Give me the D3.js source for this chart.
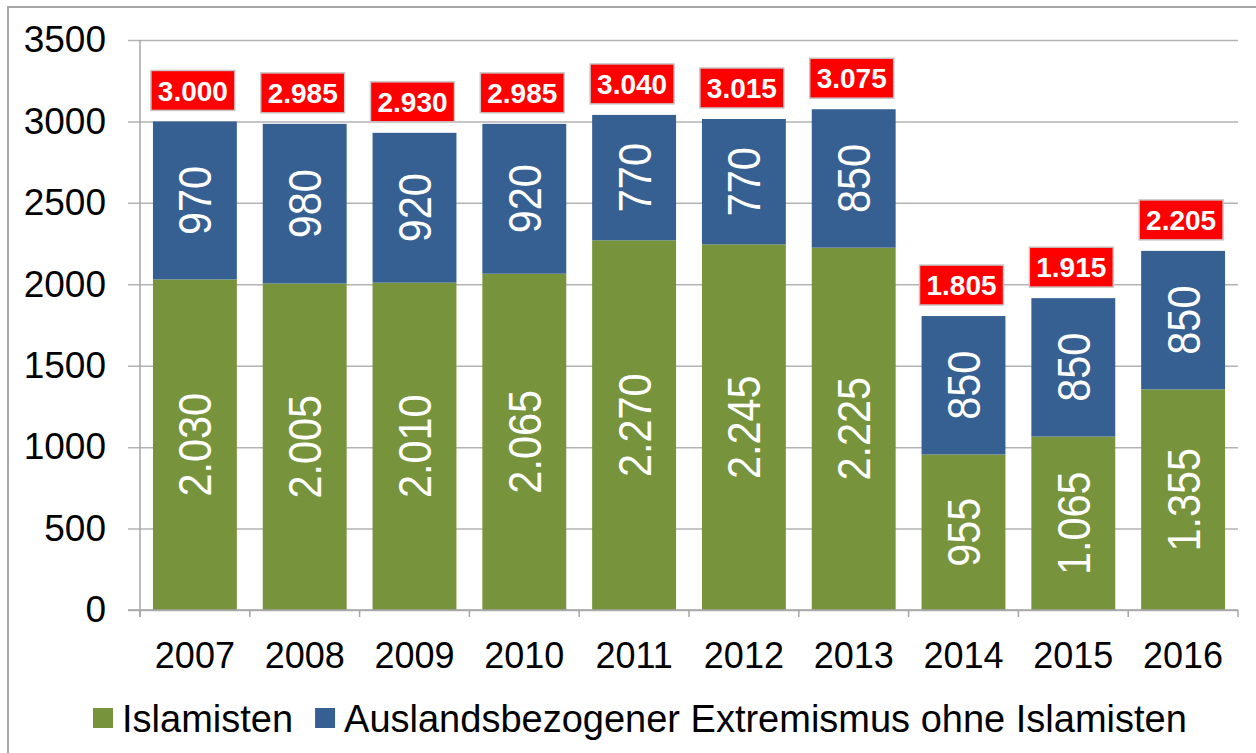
<!DOCTYPE html>
<html>
<head>
<meta charset="utf-8">
<script src="https://cdn.jsdelivr.net/npm/d3@7"></script>
<style>
  body { margin: 0; background: #fff; }
  text { font-family: "Liberation Sans", Arial, sans-serif; }
</style>
</head>
<body>
<svg width="1256" height="753"></svg>
<script>
const years = ['2007', '2008', '2009', '2010', '2011', '2012', '2013', '2014', '2015', '2016'];
const islamisten = [2030, 2005, 2010, 2065, 2270, 2245, 2225, 955, 1065, 1355];
const ausland = [970, 980, 920, 920, 770, 770, 850, 850, 850, 850];
const yTicks = [0, 500, 1000, 1500, 2000, 2500, 3000, 3500];
const seriesNames = ['Islamisten', 'Auslandsbezogener Extremismus ohne Islamisten'];
const colors = ['#77933C', '#376092'];

const svg = d3.select('svg');
const width = +svg.attr('width');
const height = +svg.attr('height');

const de = d3.formatLocale({ decimal: ',', thousands: '.', grouping: [3], currency: ['', ''] });
const fmt = de.format(',');

// outer frame
svg.append('rect')
  .attr('x', 8).attr('y', 7)
  .attr('width', width + 10).attr('height', height + 10)
  .attr('fill', '#fff')
  .attr('stroke', '#A6A6A6')
  .attr('stroke-width', 2);

const margin = { top: 40, right: 18, bottom: 143, left: 140 };
const innerWidth = width - margin.left - margin.right;
const innerHeight = height - margin.top - margin.bottom;

const g = svg.append('g')
  .attr('transform', `translate(${margin.left}, ${margin.top})`);

const xScale = d3.scaleBand()
  .domain(years)
  .range([0, innerWidth])
  .paddingInner(0.236)
  .paddingOuter(0.118);

const yScale = d3.scaleLinear()
  .domain([0, 3500])
  .range([innerHeight, 0]);

// gridlines + y labels
const yAxis = d3.axisLeft(yScale)
  .tickValues(yTicks)
  .tickSize(-innerWidth - 12)
  .tickPadding(22)
  .tickFormat(d => d);

const yAxisGroup = g.append('g')
  .attr('transform', 'translate(-12, 0)')
  .call(yAxis);
yAxisGroup.select('.domain').remove();
yAxisGroup.selectAll('line').attr('stroke', '#B3B3B3').attr('stroke-width', 1.5);
yAxisGroup.selectAll('text')
  .attr('fill', '#000')
  .style('font-size', '37px');

// stacked data
const rows = years.map((y, i) => ({ year: y, islamisten: islamisten[i], ausland: ausland[i] }));
const stack = d3.stack().keys(['islamisten', 'ausland']);
const stacked = stack(rows);

const layers = g.selectAll('.layer')
  .data(stacked)
  .enter().append('g')
  .attr('fill', (d, i) => colors[i]);

layers.selectAll('rect')
  .data(d => d)
  .enter().append('rect')
  .attr('x', d => xScale(d.data.year))
  .attr('width', xScale.bandwidth())
  .attr('y', d => yScale(d[1]))
  .attr('height', d => yScale(d[0]) - yScale(d[1]));

// value labels inside segments
layers.selectAll('text')
  .data(d => d)
  .enter().append('text')
  .attr('transform', d => {
    const cx = xScale(d.data.year) + xScale.bandwidth() / 2;
    const cy = (yScale(d[0]) + yScale(d[1])) / 2;
    return `translate(${cx}, ${cy}) rotate(-90) scale(0.9, 1)`;
  })
  .attr('text-anchor', 'middle')
  .attr('dy', '0.36em')
  .attr('fill', '#fff')
  .style('font-size', '46px')
  .text(d => fmt(d[1] - d[0]));

// x axis
const xAxisGroup = g.append('g')
  .attr('transform', `translate(0, ${innerHeight})`);
xAxisGroup.append('line')
  .attr('x1', -12).attr('x2', innerWidth)
  .attr('stroke', '#A6A6A6').attr('stroke-width', 1.5);
const step = xScale.step();
const boundaries = d3.range(years.length + 1).map(i => i * step);
xAxisGroup.selectAll('.tick-mark')
  .data(boundaries)
  .enter().append('line')
  .attr('x1', d => d).attr('x2', d => d)
  .attr('y1', 0).attr('y2', 7)
  .attr('stroke', '#A6A6A6').attr('stroke-width', 1.5);
xAxisGroup.selectAll('.xlabel')
  .data(years)
  .enter().append('text')
  .attr('x', d => xScale(d) + xScale.bandwidth() / 2)
  .attr('y', 58)
  .attr('text-anchor', 'middle')
  .style('font-size', '36px')
  .text(d => d);

// y axis line
g.append('line')
  .attr('x1', 0).attr('x2', 0)
  .attr('y1', 0).attr('y2', innerHeight + 7)
  .attr('stroke', '#A6A6A6').attr('stroke-width', 1.5);

// totals
const totals = rows.map(d => ({ year: d.year, total: d.islamisten + d.ausland }));
const totalG = g.selectAll('.total')
  .data(totals)
  .enter().append('g')
  .attr('transform', d => `translate(${xScale(d.year) + xScale.bandwidth() / 2 - 2}, ${yScale(d.total) - 31})`);
totalG.append('rect')
  .attr('x', -42).attr('y', -20)
  .attr('width', 84).attr('height', 40)
  .attr('fill', '#FF0000')
  .attr('stroke', '#C8C8C8')
  .attr('stroke-width', 1.5);
totalG.append('text')
  .attr('text-anchor', 'middle')
  .attr('dy', '0.36em')
  .attr('fill', '#fff')
  .style('font-size', '28px')
  .style('font-weight', 'bold')
  .text(d => fmt(d.total));

// legend
const legend = svg.append('g').attr('transform', 'translate(93, 718)');
let lx = 0;
seriesNames.forEach((name, i) => {
  legend.append('rect')
    .attr('x', lx).attr('y', -10)
    .attr('width', 20).attr('height', 20)
    .attr('fill', colors[i]);
  const t = legend.append('text')
    .attr('x', lx + 29)
    .attr('dy', '0.36em')
    .style('font-size', '38px')
    .text(name);
  lx += 29 + t.node().getComputedTextLength() + 22;
});
</script>
</body>
</html>
